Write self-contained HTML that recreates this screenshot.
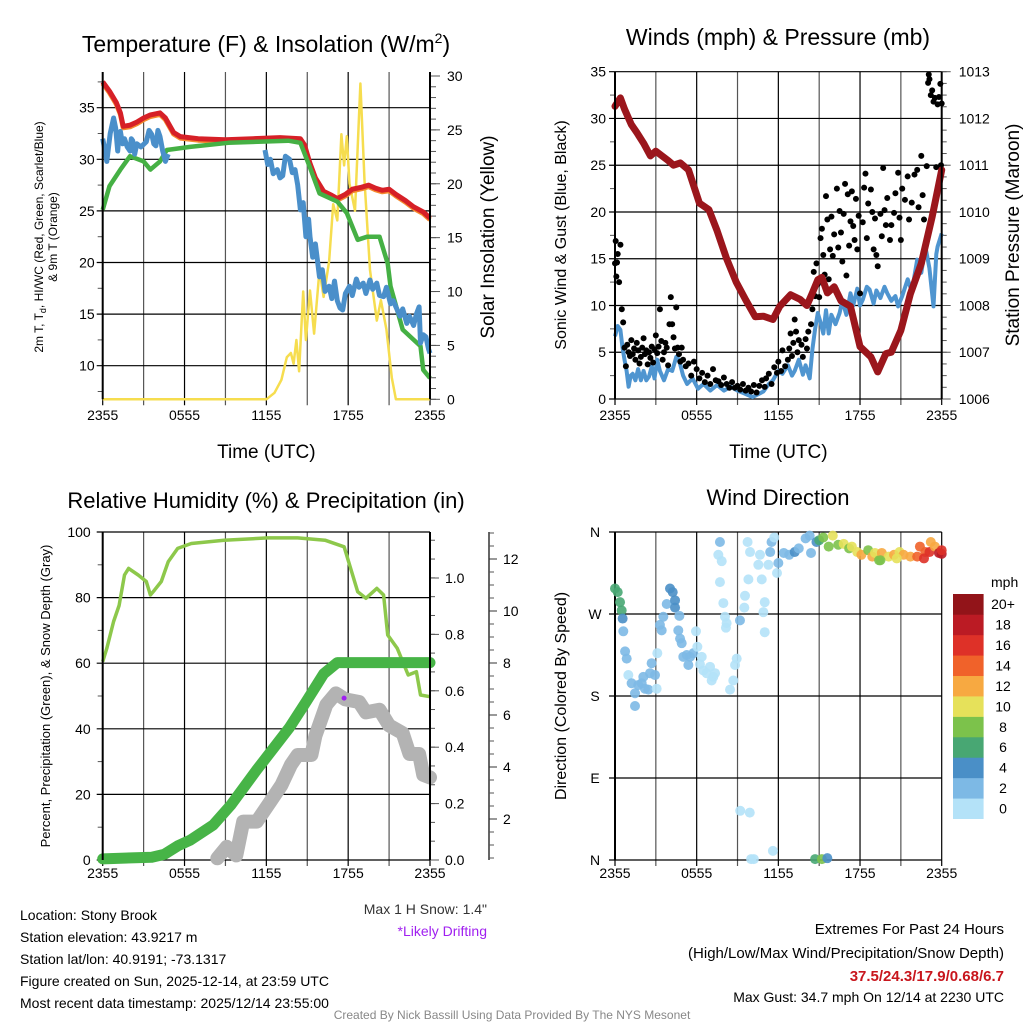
<!DOCTYPE html>
<html><head><meta charset="utf-8"><style>
html,body{margin:0;padding:0;background:#fff;}
svg{display:block;font-family:"Liberation Sans",Arial,sans-serif;}
</style></head><body>
<svg id="c" width="1024" height="1024" viewBox="0 0 1024 1024" xmlns="http://www.w3.org/2000/svg"></svg>
<script>
// ---------- DATA ----------
const timeTickLabels = ["2355","0555","1155","1755","2355"];
// Temperature panel
const redT = [0,0.5,1,1.3,1.5,2,2.5,3,3.5,4.2,4.6,5.2,5.7,7,9,11,13,14.5,14.8,15.2,15.6,16.2,16.8,17.2,17.8,18.3,19,19.5,20,20.5,21,21.5,22.2,22.8,23.5,24];
const redV = [37.5,36.6,35.5,34.5,33.2,33.3,33.6,34.0,34.3,34.5,34.0,32.6,32.2,32.0,31.9,32.0,32.1,32.0,31.4,29.6,28.2,26.9,26.5,26.2,26.6,27.1,27.3,27.5,27.2,27.0,27.1,26.6,26.0,25.4,24.9,24.3];
const greenT = [0,0.5,1.3,2.0,3.0,3.5,4.2,4.7,6.4,9.2,13.6,14.5,15.2,15.9,17.2,17.9,18.7,19.4,20.3,20.9,21.1,22.0,23.3,23.5,24];
const greenV = [25.1,27.4,29.0,30.3,29.8,29.0,29.8,30.9,31.2,31.6,31.8,31.6,29.2,26.7,25.9,24.8,22.2,22.5,22.5,19.9,17.7,13.5,11.9,9.6,8.8];
const blueT = [0,0.15,0.3,0.55,0.8,0.95,1.1,1.2,1.3,1.45,1.6,1.8,2.0,2.1,2.2,2.35,2.5,2.8,3.2,3.4,3.6,3.75,3.9,4.05,4.2,4.4,4.6,4.8,null,11.9,12.1,12.3,12.5,12.8,13.0,13.2,13.4,13.7,13.9,14.1,14.3,14.5,14.7,14.9,15.1,15.2,15.4,15.6,15.9,16.1,16.3,16.6,16.8,17.0,17.2,17.4,17.6,17.8,18.1,18.3,18.6,18.8,19.1,19.3,19.6,19.8,20.1,20.3,20.6,20.8,21.1,21.3,21.6,21.8,22.0,22.3,22.5,22.8,23.0,23.2,23.3,23.5,23.7,23.9,24];
const blueV = [32.0,31.0,29.8,32.5,34.0,33.0,30.8,32.5,32.7,31.5,32.0,31.2,30.8,32.0,31.8,30.5,31.5,31.2,31.7,32.8,32.4,31.5,31.3,32.8,32.2,30.8,29.8,30.5,null,30.9,29.5,30.0,28.6,29.0,28.2,28.4,30.3,30.0,28.7,29.0,27.5,25.1,25.8,22.5,24.2,22.5,20.5,21.8,18.6,19.3,17.2,17.7,16.5,18.2,16.3,15.6,15.4,17.0,17.7,16.8,18.4,17.6,18.0,17.0,18.3,17.4,18.0,16.8,16.7,17.6,16.0,16.3,15.4,14.8,15.5,14.1,14.8,13.9,15.0,15.7,12.2,13.0,12.8,11.6,11.2];
const solarT = [0,12.0,12.6,13.1,13.5,13.8,14.0,14.2,14.4,14.7,14.9,15.2,15.5,15.9,16.2,16.6,16.9,17.2,17.5,17.7,17.9,18.1,18.5,18.9,19.2,19.6,20.1,20.4,20.8,21.2,21.5,24];
const solarV = [0,0,0.6,1.8,3.9,4.3,3.3,5.5,2.6,10.0,5.5,10.1,6.1,12.0,9.5,12.8,18.1,16.6,24.6,21.7,24.4,20.0,17.5,29.3,20.3,12.0,7.3,9.2,6.5,2.0,0,0];
// Winds panel
const presT = [0,0.4,0.7,1.2,1.6,2.1,2.6,3.0,3.9,4.3,4.8,5.4,6.2,6.9,7.5,8.2,8.9,9.6,10.3,10.9,11.6,12.1,12.9,13.6,14.1,14.5,14.9,15.2,15.6,16.1,16.6,17.3,18.0,18.8,19.3,19.9,20.3,21.0,21.7,22.5,23.3,24];
const presV = [1012.26,1012.44,1012.2,1011.87,1011.7,1011.47,1011.2,1011.3,1011.1,1011.0,1011.05,1010.9,1010.19,1010.05,1009.6,1009.0,1008.5,1008.12,1007.76,1007.77,1007.7,1007.98,1008.23,1008.13,1008.0,1008.27,1008.55,1008.6,1008.27,1008.4,1008.1,1007.98,1007.12,1006.9,1006.58,1006.97,1007.0,1007.47,1008.25,1008.9,1009.9,1010.9];
const windT = [0,0.2,0.4,0.55,0.7,0.85,1.0,1.15,1.3,1.5,1.7,1.9,2.1,2.3,2.5,2.7,2.9,3.1,3.3,3.6,3.9,4.2,4.5,4.7,5.0,5.3,5.7,6.1,6.5,7.0,7.5,8.0,8.5,9.0,9.5,10.1,10.5,10.9,11.3,11.6,12.0,12.3,12.7,13.0,13.2,13.5,13.8,14.0,14.3,14.5,14.7,14.9,15.1,15.3,15.5,15.7,15.9,16.2,16.5,16.7,17.0,17.3,17.5,17.8,18.0,18.2,18.5,18.7,19.0,19.2,19.5,19.8,20.0,20.3,20.6,20.8,21.1,21.5,21.8,22.2,22.5,22.8,23.1,23.4,23.6,23.7,24];
const windV = [6.7,7.8,7.4,5.5,4.2,3.0,1.3,2.5,2.7,2.0,3.2,2.0,3.0,2.0,2.4,3.5,2.2,4.2,3.0,2.0,3.2,3.0,4.5,4.2,2.5,1.6,2.2,1.1,1.6,0.9,1.5,0.9,1.3,0.9,0.6,0.2,0.5,0.8,1.6,2.0,3.0,2.7,3.6,2.5,3.0,4.2,2.6,3.6,2.2,5.3,7.5,9.2,8.2,7.0,9.5,7.0,9.0,8.0,9.2,10.5,9.0,11.3,10.0,11.8,10.0,10.6,12.0,11.7,10.2,11.6,10.8,12.0,11.3,10.5,11.0,9.9,11.0,12.8,11.5,14.9,13.5,16.3,14.0,9.9,15.5,16.3,17.7];
const gustT = [0,0.05,0.1,0.15,0.2,0.3,0.4,0.5,0.6,0.7,0.8,0.9,1.0,1.1,1.2,1.3,1.4,1.5,1.6,1.7,1.8,1.9,2.0,2.1,2.2,2.3,2.4,2.5,2.6,2.7,2.8,2.9,3.0,3.1,3.2,3.3,3.4,3.5,3.6,3.7,3.8,3.9,4.0,4.1,4.2,4.3,4.4,4.5,4.6,4.7,4.8,4.9,5.0,5.2,5.4,5.6,5.8,6.0,6.2,6.4,6.6,6.8,7.0,7.2,7.4,7.6,7.8,8.0,8.2,8.4,8.6,8.8,9.0,9.2,9.4,9.6,9.8,10.0,10.2,10.4,10.6,10.8,11.0,11.1,11.3,11.5,11.7,11.9,12.0,12.2,12.3,12.5,12.7,12.8,12.9,13.0,13.1,13.2,13.3,13.4,13.5,13.7,13.8,14.0,14.1,14.2,14.4,14.5,14.6,14.7,14.8,14.9,15.0,15.1,15.2,15.3,15.4,15.5,15.6,15.7,15.8,15.9,16.0,16.1,16.2,16.3,16.4,16.5,16.6,16.7,16.8,16.9,17.0,17.1,17.2,17.3,17.4,17.5,17.6,17.7,17.8,17.9,18.0,18.2,18.3,18.4,18.5,18.6,18.8,18.9,19.0,19.1,19.2,19.3,19.5,19.6,19.7,19.8,19.9,20.0,20.2,20.3,20.5,20.6,20.8,20.9,21.0,21.1,21.3,21.5,21.6,21.8,22.0,22.2,22.3,22.5,22.6,22.7,22.9,23.0,23.05,23.1,23.2,23.3,23.4,23.5,23.6,23.7,23.8,23.9,24.0,23.95];
const gustV = [14.5,16.9,13.1,14.6,15.5,12.5,16.5,9.6,8.2,5.5,3.5,5.8,5.0,4.6,6.3,4.8,5.4,4.2,6.0,5.2,3.8,4.5,5.5,6.5,4.8,5.2,3.7,5.0,4.4,5.6,3.9,5.3,6.8,4.9,5.6,9.6,6.2,4.2,5.0,6.0,5.5,3.6,8.0,10.9,8.0,6.6,5.4,9.8,5.5,4.8,4.0,5.5,4.2,3.5,3.8,2.5,4.0,3.2,2.2,2.8,1.8,2.5,1.6,3.2,2.0,1.9,1.5,2.3,1.6,1.2,1.8,1.2,1.4,1.0,1.6,0.9,1.2,0.8,1.5,0.7,1.4,2.0,1.3,2.2,2.7,1.6,3.4,2.8,4.0,3.0,5.2,3.5,4.2,5.4,7.0,4.6,6.0,8.5,7.2,5.0,6.3,5.8,4.5,6.4,5.4,7.2,8.0,9.6,13.6,11.0,14.5,12.3,10.9,17.2,18.2,15.4,13.3,21.7,19.2,12.8,16.0,19.5,15.3,17.6,11.8,22.5,16.2,20.1,17.8,14.7,19.8,23.0,13.2,21.9,16.4,19.0,22.2,18.5,17.0,21.4,16.0,19.6,11.3,18.9,22.6,24.1,17.2,20.9,22.4,20.0,16.0,19.3,15.4,14.2,19.8,17.4,24.7,20.2,18.6,21.5,17.0,18.6,19.9,22.0,24.2,19.4,17.0,22.5,21.3,23.8,19.2,21.0,24.0,24.5,20.5,26.0,21.8,19.2,24.9,33.8,34.7,34.2,32.5,33.0,31.8,32.2,24.8,31.5,32.3,33.7,31.6,25.0];
// Humidity panel
const rhT = [0,0.3,0.8,1.2,1.6,1.9,2.6,3.2,3.5,3.8,4.3,4.8,5.5,6.5,8.9,12.1,14.3,16.3,17.7,18.7,19.3,20.1,20.6,20.9,21.6,22.4,23.0,23.3,24];
const rhV = [60.5,64.5,72.7,77.6,86.9,88.9,86.9,84.9,80.8,82.3,84.9,90.9,95.0,96.5,97.5,98.2,98.2,97.5,95.5,81.8,79.8,82.8,80.8,68.6,64.5,56.4,57.4,50.3,49.8];
const precipT = [0,3.6,4.5,5.5,6.4,8.1,9.4,11.3,13.7,14.9,16.2,17.2,24];
const precipV = [0.004,0.01,0.02,0.05,0.07,0.124,0.195,0.32,0.47,0.56,0.66,0.70,0.70];
const snowT = [8.4,9.1,9.8,10.3,11.3,12.3,13.1,13.8,14.3,15.3,15.6,16.4,17.1,17.8,18.8,19.3,20.3,21.0,22.0,22.5,23.2,23.5,24];
const snowV = [0.49,0.93,0.6,1.9,1.9,2.67,3.3,4.08,4.46,4.46,5.2,6.4,6.83,6.6,6.5,6.1,6.2,5.6,5.3,4.5,4.5,3.7,3.6];
const driftT = [17.7];
const driftV = [6.65];
// Direction panel
const dirT = [0,0.2,0.37,0.49,0.56,0.61,0.74,0.86,0.98,1.22,1.47,1.47,1.71,1.96,2.2,2.45,2.08,2.57,2.69,2.94,3.06,3.11,3.3,3.43,3.55,3.8,4.04,4.24,4.41,4.41,4.73,4.65,4.78,4.9,5.02,5.27,5.51,5.39,5.76,5.95,6.05,6.24,6.37,6.49,6.73,6.98,7.22,7.1,7.35,7.59,7.71,7.84,7.71,7.96,8.08,8.2,8.15,8.45,8.69,8.82,8.94,9.18,9.5,9.55,9.8,9.74,9.92,10.65,10.53,10.78,10.9,11.0,11.0,11.27,11.4,11.5,11.7,11.9,12.0,12.4,12.8,13.2,13.5,14.0,14.3,14.4,14.8,15.0,15.3,15.7,16.0,16.4,16.8,17.2,17.4,17.8,18.1,18.6,18.9,19.1,19.4,19.6,20.1,20.5,20.9,21.2,21.7,22.2,22.4,22.8,23.1,23.2,23.5,23.8,24.0,24.0,22.7,20.7,19.5,9.2,9.9,10.0,10.2,11.6,14.7,15.2,15.6];
const dirV = [298,294,283,274,265,251,229,221,203,194,183,169,192,194,188,187,201,205,216,203,188,227,258,252,267,281,298,294,285,277,268,252,243,238,223,225,223,214,227,251,234,215,223,208,205,212,201,197,205,335,349,328,305,282,267,260,255,187,197,214,221,263,277,290,308,349,338,335,324,308,272,283,250,324,338,349,354,315,326,337,335,338,342,353,356,337,349,351,354,344,356,346,347,342,344,338,335,340,333,337,329,337,333,335,338,335,333,333,344,338,338,349,344,337,336,340,331,331,329,54,52,1,1,10,1,1,2];
const dirSpd = [7,7,7,7,5,3,3,3,1,3,3,3,3,3,3,3,3,3,3,3,1,1,3,3,3,3,5,5,5,5,3,3,3,3,3,3,3,3,3,1,1,1,1,1,1,1,1,1,1,1,3,1,1,1,1,1,1,1,1,1,1,3,1,1,1,1,1,1,1,1,1,1,1,1,3,3,1,1,3,3,3,5,3,3,3,3,5,7,9,9,11,9,11,9,11,11,13,9,13,11,9,13,11,13,11,13,13,15,15,15,17,13,13,19,19,17,17,11,9,1,1,1,1,1,7,9,5];
const spdColors = ["#b4e2f8","#7db9e5","#4a8fc7","#48a773","#7cc24b","#e6e15a","#f7a941","#f0622a","#de3128","#bb1b24","#921419"];
const spdLabels = ["0","2","4","6","8","10","12","14","16","18","20+"];

// ---------- helpers ----------
const svg = document.getElementById('c');
const NS = "http://www.w3.org/2000/svg";
function el(tag, attrs, parent){ const e=document.createElementNS(NS,tag); for(const k in attrs) e.setAttribute(k,attrs[k]); (parent||svg).appendChild(e); return e; }
function txt(s, x, y, size, anchor, parent, extra){ const t=el('text',Object.assign({x:x,y:y,'font-size':size,'text-anchor':anchor||'middle',fill:'#000'},extra||{}),parent); t.textContent=s; return t; }
function lin(d0,d1,r0,r1){ return v => r0+(v-d0)/(d1-d0)*(r1-r0); }
function pathD(xs, ys, fx, fy){ let d='', pen=false; for(let i=0;i<xs.length;i++){ if(xs[i]===null||ys[i]===null){pen=false;continue;} d+=(pen?'L':'M')+fx(xs[i]).toFixed(1)+','+fy(ys[i]).toFixed(1); pen=true;} return d; }

const X0=102.7, X1=430, X2=615, X3=941.7;
function timeAxis(g, x0, x1, yTop, yBot, labelY, withTitle){
  const fx = lin(0,24,x0,x1);
  for(let h=0; h<=24; h+=3){
    const l=el('line',{x1:fx(h),x2:fx(h),y1:yTop,y2:yBot+6,stroke:(h%6? '#555':'#000'),'stroke-width':1.2},g);
    
    
  }
  timeTickLabels.forEach((s,i)=>{ const t=txt(s, fx(i*6), labelY, 14, 'middle', g);   });
  if(withTitle){ const t=txt('Time (UTC)', (x0+x1)/2, labelY+38, 19, 'middle', g);   }
  return fx;
}
function hGrid(g, vals, fy, x0, x1){ vals.forEach(v=>{ const l=el('line',{x1:x0-6,x2:x1,y1:fy(v),y2:fy(v),stroke:'#000','stroke-width':1.2},g);   }); }
function ticks(g, x, from, to, step, fy, len){ for(let v=from; v<=to+1e-9; v+=step){ el('line',{x1:x,x2:x+len,y1:fy(v),y2:fy(v),stroke:'#555','stroke-width':1},g);} }
function frameLines(g,x0,x1,y0,y1){ el('line',{x1:x0,x2:x0,y1:y0,y2:y1,stroke:'#000','stroke-width':2},g); el('line',{x1:x1,x2:x1,y1:y0,y2:y1,stroke:'#000','stroke-width':2},g); }

// ---------- Panel 1: temperature ----------
const g1 = el('g',{});  
const t1=txt('Temperature (F) & Insolation (W/m',266,52,23,'middle',g1); const sup=el('tspan',{dy:-9,'font-size':14},t1); sup.textContent='2'; const cl=el('tspan',{dy:9},t1); cl.textContent=')';
 
const Y0a=72, Y1a=399.3;
const fyT = lin(35,10,107.7,365.7);
const fyS = lin(0,30,399.3,76);
const fx1 = timeAxis(g1, X0, X1, Y0a, Y1a, 420, true);
hGrid(g1,[35,30,25,20,15,10],fyT,X0,X1);
ticks(g1, X0, 7.5, 37.5, 5, fyT, -5);
ticks(g1, X1, 0, 30, 1, fyS, 6);
ticks(g1, X1, 0, 30, 5, fyS, 10);
[10,15,20,25,30,35].forEach(v=>{const t=txt(String(v),X0-8,fyT(v)+5,14,'end',g1);  });
[0,5,10,15,20,25,30].forEach(v=>{const t=txt(String(v),X1+17,fyS(v)+5,14,'start',g1);  });
let tt=txt('2m T, T',0,0,12,'middle',g1,{transform:'translate(43,237) rotate(-90)'}); const sd=el('tspan',{dy:3,'font-size':9},tt); sd.textContent='d'; const r2=el('tspan',{dy:-3},tt); r2.textContent=', HI/WC (Red, Green, Scarlet/Blue)';
 
tt=txt('& 9m T (Orange)',0,0,12,'middle',g1,{transform:'translate(57,237) rotate(-90)'});  
tt=txt('Solar Insolation (Yellow)',0,0,19,'middle',g1,{transform:'translate(494,237) rotate(-90)'});  
let p;
p=el('path',{d:pathD(solarT,solarV,fx1,fyS),fill:'none',stroke:'#f6dd4f','stroke-width':2.5,'stroke-linejoin':'round'},g1);  
p=el('path',{d:pathD(redT,redV.map(v=>v-0.15),fx1,fyT),fill:'none',stroke:'#f58a2e','stroke-width':5,'stroke-linejoin':'round'},g1);  
p=el('path',{d:pathD(redT,redV,fx1,fyT),fill:'none',stroke:'#d62027','stroke-width':5,'stroke-linejoin':'round'},g1);  
p=el('path',{d:pathD(greenT,greenV,fx1,fyT),fill:'none',stroke:'#45b044','stroke-width':4.5,'stroke-linejoin':'round'},g1);  
p=el('path',{d:pathD(blueT,blueV,fx1,fyT),fill:'none',stroke:'#4a8fca','stroke-width':5,'stroke-linejoin':'round'},g1);  
frameLines(g1,X0,X1,Y0a,Y1a);

// ---------- Panel 2: winds ----------
const g2 = el('g',{});  
tt=txt('Winds (mph) & Pressure (mb)',778,45,23,'middle',g2);  
const Y0b=71.7, Y1b=399;
const fyW = lin(0,35,399,71.7);
const fyP = lin(1006,1013,399,71.7);
const fx2 = timeAxis(g2, X2, X3, Y0b, Y1b, 420, true);
hGrid(g2,[0,5,10,15,20,25,30,35],fyW,X2,X3);
ticks(g2, X2, 2.5, 32.5, 5, fyW, -5);
ticks(g2, X3, 1006, 1013, 0.25, fyP, 5);
ticks(g2, X3, 1006, 1013, 1, fyP, 9);
[0,5,10,15,20,25,30,35].forEach(v=>{const t=txt(String(v),X2-9,fyW(v)+5,14,'end',g2);  });
for(let v=1006; v<=1013; v++){const t=txt(String(v),X3+17,fyP(v)+5,14,'start',g2);  }
tt=txt('Sonic Wind & Gust (Blue, Black)',0,0,16,'middle',g2,{transform:'translate(566,235) rotate(-90)'});  
tt=txt('Station Pressure (Maroon)',0,0,19,'middle',g2,{transform:'translate(1019,235) rotate(-90)'});  
p=el('path',{d:pathD(windT,windV,fx2,fyW),fill:'none',stroke:'#4f95d0','stroke-width':4,'stroke-linejoin':'round'},g2);  
gustT.forEach((t,i)=>{ const c=el('circle',{cx:fx2(t),cy:fyW(gustV[i]),r:3,fill:'#000'},g2);
  
   });
p=el('path',{d:pathD(presT,presV,fx2,fyP),fill:'none',stroke:'#9b161c','stroke-width':7,'stroke-linejoin':'round','stroke-linecap':'round'},g2);  
frameLines(g2,X2,X3,Y0b,Y1b);

// ---------- Panel 3: humidity ----------
const g3 = el('g',{});  
tt=txt('Relative Humidity (%) & Precipitation (in)',266,508,22,'middle',g3);  
const Y0c=532, Y1c=860;
const fyR = lin(0,100,860,532);
const fyPr = lin(0,1,860,578);
const fySn = lin(2,12,819,559);
const fx3 = timeAxis(g3, X0, X1, Y0c, Y1c, 878, false);
hGrid(g3,[0,20,40,60,80,100],fyR,X0,X1);
ticks(g3, X0, 10, 90, 20, fyR, -5);
ticks(g3, X1, 0, 1.15, 0.0667, fyPr, 5);
ticks(g3, X1, 0, 1.0, 0.2, fyPr, 9);
[0,20,40,60,80,100].forEach(v=>{const t=txt(String(v),X0-12,fyR(v)+5,14,'end',g3);  });
[0,0.2,0.4,0.6,0.8,1.0].forEach(v=>{const t=txt(v.toFixed(1),X1+15,fyPr(v)+5,14,'start',g3);  });
el('line',{x1:489,x2:489,y1:532,y2:860,stroke:'#333','stroke-width':1.5},g3);
for(let v=0.5; v<=13; v+=0.5){ el('line',{x1:489,x2:494,y1:fySn(v),y2:fySn(v),stroke:'#555','stroke-width':1},g3); }
[2,4,6,8,10,12].forEach(v=>{ el('line',{x1:489,x2:497,y1:fySn(v),y2:fySn(v),stroke:'#333','stroke-width':1},g3); const t=txt(String(v),503,fySn(v)+5,14,'start',g3);  });
tt=txt('Percent, Precipitation (Green), & Snow Depth (Gray)',0,0,13,'middle',g3,{transform:'translate(50,696) rotate(-90)'});  
p=el('path',{d:pathD(rhT,rhV,fx3,fyR),fill:'none',stroke:'#8dc84b','stroke-width':3.5,'stroke-linejoin':'round'},g3);  
p=el('path',{d:pathD(snowT,snowV,fx3,fySn),fill:'none',stroke:'#b3b3b3','stroke-width':14,'stroke-linejoin':'round','stroke-linecap':'round'},g3);  
p=el('path',{d:pathD(precipT,precipV,fx3,fyPr),fill:'none',stroke:'#47b447','stroke-width':11,'stroke-linejoin':'round','stroke-linecap':'round'},g3);  
driftT.forEach((t,i)=>{ const c=el('circle',{cx:fx3(t),cy:fySn(driftV[i]),r:2.5,fill:'#a020f0'},g3);
  
   });
frameLines(g3,X0,X1,Y0c,Y1c);

// ---------- Panel 4: direction ----------
const g4 = el('g',{});  
tt=txt('Wind Direction',778,505,22,'middle',g4);  
const fyD = lin(0,360,860,532);
const fx4 = timeAxis(g4, X2, X3, 532, 860, 878, false);
hGrid(g4,[0,90,180,270,360],fyD,X2,X3);
el('line',{x1:X2,x2:X2,y1:532,y2:860,stroke:'#000','stroke-width':2},g4);
['N','E','S','W','N'].forEach((s,i)=>{const t=txt(s,X2-20,fyD(i*90)+5,14,'middle',g4);  });
tt=txt('Direction (Colored By Speed)',0,0,16,'middle',g4,{transform:'translate(566,696) rotate(-90)'});  
dirT.forEach((t,i)=>{ const bin=Math.min(10,Math.floor(dirSpd[i]/2)); const c=el('circle',{cx:fx4(t),cy:fyD(dirV[i]),r:5,fill:spdColors[bin],'fill-opacity':0.9},g4);
  
   });
// colorbar
tt=txt('mph',991,587,14,'start',g4);  
const cbTop=594, cbH=224.7/11;
spdColors.forEach((c,i)=>{ const y=cbTop+(10-i)*cbH; const r=el('rect',{x:953,y:y,width:30.6,height:cbH+0.3,fill:c},g4);
  
  
  const t=txt(spdLabels[i],1003,y+cbH/2+5,14,'middle',g4);
  
   });

// ---------- Footer texts ----------
const info=["Location: Stony Brook","Station elevation: 43.9217 m","Station lat/lon: 40.9191; -73.1317","Figure created on Sun, 2025-12-14, at 23:59 UTC","Most recent data timestamp: 2025/12/14 23:55:00"];
info.forEach((s,i)=>{const t=txt(s,20,920+i*22,14,'start');  });
tt=txt('Max 1 H Snow: 1.4"',487,914,14,'end',null,{fill:'#333'});  
tt=txt('*Likely Drifting',487,936,14,'end',null,{fill:'#a020f0'});  
tt=txt('Extremes For Past 24 Hours',1004,934,15,'end');  
tt=txt('(High/Low/Max Wind/Precipitation/Snow Depth)',1004,958,15,'end');  
tt=txt('37.5/24.3/17.9/0.68/6.7',1004,981,15,'end',null,{fill:'#c8161d','font-weight':'bold'});  
tt=txt('Max Gust: 34.7 mph On 12/14 at 2230 UTC',1004,1002,14,'end');  
tt=txt('Created By Nick Bassill Using Data Provided By The NYS Mesonet',512,1019,12,'middle',null,{fill:'#888'});  
</script>
</body></html>
